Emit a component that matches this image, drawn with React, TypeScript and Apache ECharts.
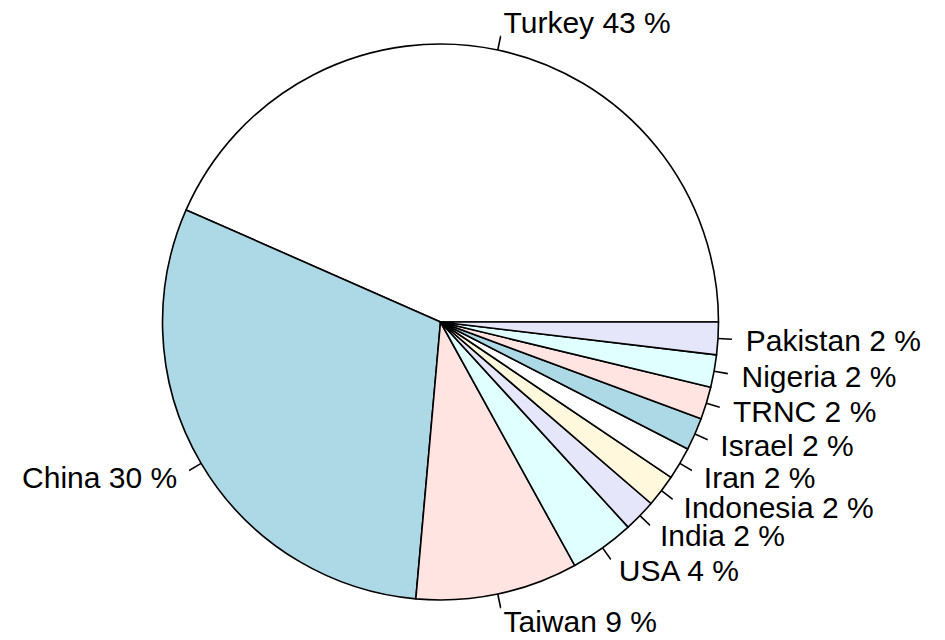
import React, { useEffect, useRef } from "react";
import * as echarts from "echarts";

const countries = ["Turkey", "China", "Taiwan", "USA", "India", "Indonesia", "Iran", "Israel", "TRNC", "Nigeria", "Pakistan"];
const counts = [23, 16, 5, 2, 1, 1, 1, 1, 1, 1, 1];
const sliceColors = ["#FFFFFF", "#ADD8E6", "#FFE4E1", "#E0FFFF", "#E6E6FA", "#FFF8DC"];

const RADIUS = 278;
const TICK = RADIUS * 0.05;

export default function App() {
  const ref = useRef<HTMLDivElement>(null);
  useEffect(() => {
    if (!ref.current) return;
    const chart = echarts.init(ref.current, null, { renderer: "svg" });
    const data = counts.map((v, i) => ({
      value: v,
      name: countries[i],
      itemStyle: { color: sliceColors[i % sliceColors.length] },
    }));
    chart.setOption({
      animation: false,
      backgroundColor: "#ffffff",
      series: [
        {
          type: "pie",
          center: [440.5, 322],
          radius: RADIUS,
          startAngle: 0,
          clockwise: false,
          avoidLabelOverlap: false,
          silent: true,
          emphasis: { disabled: true },
          itemStyle: { borderColor: "#000000", borderWidth: 1.6 },
          label: {
            show: true,
            position: "outside",
            distanceToLabelLine: 0,
            color: "#000000",
            fontSize: 30,
            lineHeight: 24,
            fontFamily: "'Liberation Sans', Arial, Helvetica, sans-serif",
            formatter: (p: any) => `${p.name} ${Math.round(p.percent)} %`,
          },
          labelLine: {
            show: true,
            length: TICK,
            length2: 0.01,
            lineStyle: { color: "#000000", width: 1.6 },
          },
          labelLayout: (params: any) => {
            const pts = params.labelLinePoints;
            if (!pts || pts.length < 2) return { hideOverlap: false };
            const [p1, p2] = pts;
            const x = p2[0] + (p2[0] - p1[0]);
            const y = p2[1] + (p2[1] - p1[1]);
            return {
              x,
              y,
              align: p2[0] >= p1[0] ? "left" : "right",
              verticalAlign: "middle",
              hideOverlap: false,
              labelLinePoints: pts,
            };
          },
          data,
        },
      ],
    });
    return () => chart.dispose();
  }, []);
  return (
    <div
      ref={ref}
      style={{ position: "absolute", left: 0, top: 0, width: 945, height: 640, background: "#fff" }}
    />
  );
}
